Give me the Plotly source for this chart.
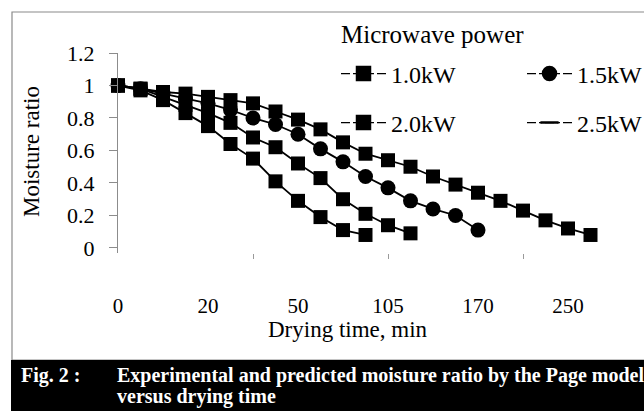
import plotly.graph_objects as go

# ---------------- data ----------------
times = ["0", "5", "10", "15", "20", "25", "30", "40", "50", "60", "75", "90",
         "105", "120", "135", "150", "170", "190", "210", "230", "250", "270"]
tick_labels = ["0", "20", "50", "105", "170", "250"]
power_labels = ["1.0kW", "1.5kW", "2.0kW", "2.5kW"]

mr_10 = [1.00, 0.98, 0.96, 0.95, 0.93, 0.91, 0.89, 0.84, 0.79, 0.73, 0.65,
         0.58, 0.54, 0.50, 0.44, 0.39, 0.34, 0.29, 0.23, 0.17, 0.12, 0.08]
mr_15 = [1.00, 0.98, 0.95, 0.92, 0.89, 0.85, 0.80, 0.76, 0.70, 0.61, 0.53,
         0.44, 0.37, 0.29, 0.24, 0.20, 0.11]
mr_20 = [1.00, 0.98, 0.93, 0.88, 0.83, 0.77, 0.68, 0.62, 0.52, 0.43, 0.30,
         0.21, 0.14, 0.09]
mr_25 = [1.00, 0.97, 0.91, 0.83, 0.75, 0.64, 0.55, 0.41, 0.29, 0.19, 0.11,
         0.08]

series = [mr_10, mr_15, mr_20, mr_25]
plot_symbols = ["square", "circle", "square", "square"]
legend_symbols = ["square", "circle", "square", "line-ew"]

FONT = "Liberation Serif"

# plot-area geometry in px (used to convert to paper coords for decorations)
W, H = 644, 411
L, T = 118, 53
PW, PH = 526, 200
STEP = 22.5  # px per category


def px(x):
    return (x - L) / PW


def py(y):
    return (T + PH - y) / PH


fig = go.Figure()

for vals, sym in zip(series, plot_symbols):
    idx = list(range(len(vals)))
    fig.add_trace(go.Scatter(
        x=idx, y=vals, mode="lines+markers", showlegend=False,
        line=dict(color="black", width=1.8),
        marker=dict(symbol=sym, size=14 if sym == "square" else 15,
                    color="black"),
        cliponaxis=False,
    ))

legend_names = ["legend", "legend2", "legend3", "legend4"]
for name, sym, lg in zip(power_labels, legend_symbols, legend_names):
    fig.add_trace(go.Scatter(
        x=[None], y=[None], mode="lines+markers", name=name, legend=lg,
        line=dict(color="black", width=1.2, dash="dashdot"),
        marker=dict(symbol=sym, size=13, color="black",
                    line=dict(color="black", width=2.5)),
    ))

tickvals = [times.index(t) for t in tick_labels]

fig.update_layout(
    width=W, height=H, autosize=False,
    margin=dict(l=L, r=W - L - PW, t=T, b=H - T - PH, autoexpand=False),
    paper_bgcolor="white", plot_bgcolor="white",
    font=dict(family=FONT, size=20, color="black"),
    xaxis=dict(
        range=[0, PW / STEP], showgrid=False, zeroline=False, showline=False,
        tickmode="array", tickvals=tickvals, ticktext=tick_labels,
        ticks="outside", ticklen=1, tickcolor="rgba(0,0,0,0)",
        ticklabelstandoff=33,
        tickfont=dict(family=FONT, size=21),
        minor=dict(tickmode="array", tickvals=[6, 12, 18], ticks="outside",
                   ticklen=5, tickcolor="#9a9a9a", tickwidth=1),
    ),
    yaxis=dict(
        range=[-0.031, 1.2], showgrid=False, zeroline=False,
        showline=True, linecolor="#8c8c8c", linewidth=1,
        tickmode="array", tickvals=[0, 0.2, 0.4, 0.6, 0.8, 1.0, 1.2],
        ticktext=["0", "0.2", "0.4", "0.6", "0.8", "1", "1.2"],
        ticks="outside", ticklen=8, tickcolor="#8c8c8c",
        ticklabelstandoff=10,
        tickfont=dict(family=FONT, size=22),
    ),
)

leg_common = dict(font=dict(family=FONT, size=24, color="black"),
                  bgcolor="rgba(0,0,0,0)", borderwidth=0, itemwidth=45,
                  xanchor="left", yanchor="middle")
fig.update_layout(
    legend=dict(x=px(336), y=py(74), **leg_common),
    legend2=dict(x=px(522), y=py(74), **leg_common),
    legend3=dict(x=px(336), y=py(123), **leg_common),
    legend4=dict(x=px(522), y=py(123), **leg_common),
)

# frame and caption band
fig.add_shape(type="rect", xref="paper", yref="paper",
              x0=px(12), x1=px(660), y0=py(360), y1=py(12),
              line=dict(color="#8a8a8a", width=1.2), fillcolor="rgba(0,0,0,0)",
              layer="below")
fig.add_shape(type="rect", xref="paper", yref="paper",
              x0=px(11), x1=px(660), y0=py(420), y1=py(360),
              line=dict(width=0), fillcolor="black", layer="above")

ann = [
    dict(text="Microwave power", x=px(432), y=py(35), xanchor="center",
         yanchor="middle", font=dict(family=FONT, size=25)),
    dict(text="Moisture ratio", x=px(31), y=py(152), textangle=-90,
         xanchor="center", yanchor="middle", font=dict(family=FONT, size=23)),
    dict(text="Drying time, min", x=px(348), y=py(329), xanchor="center",
         yanchor="middle", font=dict(family=FONT, size=23)),
    dict(text="<b>Fig. 2 :</b>", x=px(19), y=py(375), xanchor="left",
         yanchor="middle", font=dict(family=FONT, size=20, color="white")),
    dict(text="<b>Experimental and predicted moisture ratio by the Page model</b>",
         x=px(115), y=py(375), xanchor="left", yanchor="middle",
         font=dict(family=FONT, size=20, color="white")),
    dict(text="<b>versus drying time</b>", x=px(115), y=py(396),
         xanchor="left", yanchor="middle",
         font=dict(family=FONT, size=20, color="white")),
]
for a in ann:
    a.update(xref="paper", yref="paper", showarrow=False)
    fig.add_annotation(**a)

fig.write_html("out.html")
